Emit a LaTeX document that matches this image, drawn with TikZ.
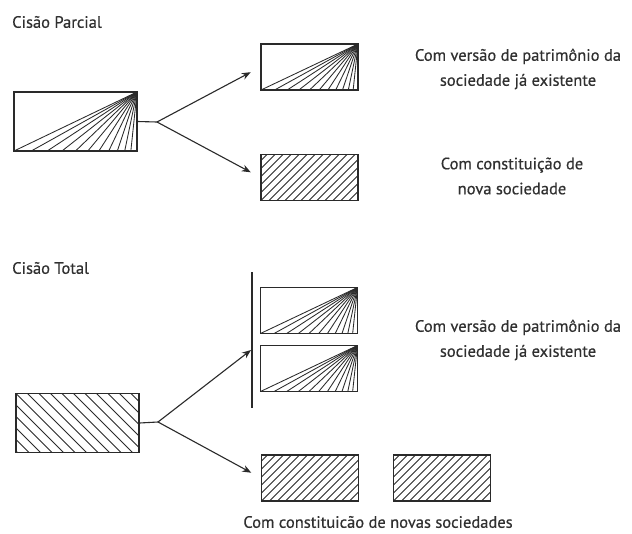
\documentclass[tikz,border=0pt]{standalone}
\usepackage{fontspec}
\setmainfont{PT Sans}
\newfontfamily\labfont[FakeBold=0.5]{PT Sans}
\usetikzlibrary{calc,arrows.meta}
\definecolor{ink}{HTML}{2A2A2A}
\definecolor{txt}{HTML}{303030}
\tikzset{
  box/.style={draw=ink, line width=1.1pt, inner sep=0pt, minimum width=97pt, minimum height=46pt},
  bigbox/.style={box, minimum width=123pt, minimum height=59pt},
  fan/.style={path picture={
    \foreach \f in {0,0.14,0.27,0.39,0.5,0.6,0.69,0.77,0.84,0.9,0.95}
      \draw[ink, line width=0.85pt] (path picture bounding box.north east) -- ($(path picture bounding box.south west)!\f!(path picture bounding box.south east)$);}},
  hatchR/.style={path picture={
    \foreach \i in {-8,...,16}
      \draw[ink, line width=0.75pt] ([xshift=\i*8pt]path picture bounding box.south west) -- ++(80pt,80pt);}},
  hatchL/.style={path picture={
    \foreach \i in {-8,...,16}
      \draw[ink, line width=0.75pt] ([xshift=\i*11.5pt]path picture bounding box.north west) -- ++(80pt,-80pt);}},
  conn/.style={draw=ink, line width=1.1pt},
  arr/.style={conn, -{Stealth[length=9pt,width=7pt]}},
  title/.style={font=\labfont\fontsize{16.5}{20}\selectfont, text=txt, anchor=west, inner sep=0pt},
  lab/.style={font=\labfont\fontsize{16.5}{25}\selectfont, text=txt, align=center, inner sep=0pt},
}
\begin{document}
\begin{tikzpicture}[x=1pt,y=-1pt]
\useasboundingbox (0,0) rectangle (632,533);
\fill[white] (0,0) rectangle (632,533);
% Cisao Parcial
\node[title] (t1) at (12,22) {Cisão Parcial};
\node[bigbox, fan] (p0) at (75.5,121.5) {};
\node[box, fan] (p1) at (309.5,67) {};
\node[box, hatchR] (p2) at (309.5,177.5) {};
\coordinate (b1) at (157,122);
\draw[conn] (p0.east) -- (b1);
\draw[arr, shorten >=11pt] (b1) -- (p1.west);
\draw[arr, shorten >=11pt] (b1) -- (p2.west);
\node[lab] (l1) at (518,69) {Com versão de patrimônio da\\sociedade já existente};
\node[lab] (l2) at (512,176) {Com constituição de\\nova sociedade};
% Cisao Total
\node[title] (t2) at (12,268) {Cisão Total};
\node[bigbox, hatchL] (q0) at (77.5,423) {};
\coordinate (b2) at (158,422);
\coordinate (vtop) at (252,272);
\coordinate (vbot) at (252,408);
\coordinate (vmid) at (251,350);
\draw[conn] (vtop) -- (vbot);
\node[box, fan] (q1) at (309,310.5) {};
\node[box, fan] (q2) at (309,368.5) {};
\node[box, hatchR] (q3) at (310,478) {};
\node[box, hatchR] (q4) at (442,478) {};
\draw[conn] (q0.east) -- (b2);
\draw[arr] (b2) -- (vmid);
\draw[arr, shorten >=11pt] (b2) -- (q3.west);
\node[lab] (l3) at (518,340) {Com versão de patrimônio da\\sociedade já existente};
\node[lab] (l4) at (378,522) {Com constituicão de novas sociedades};
\end{tikzpicture}
\end{document}
